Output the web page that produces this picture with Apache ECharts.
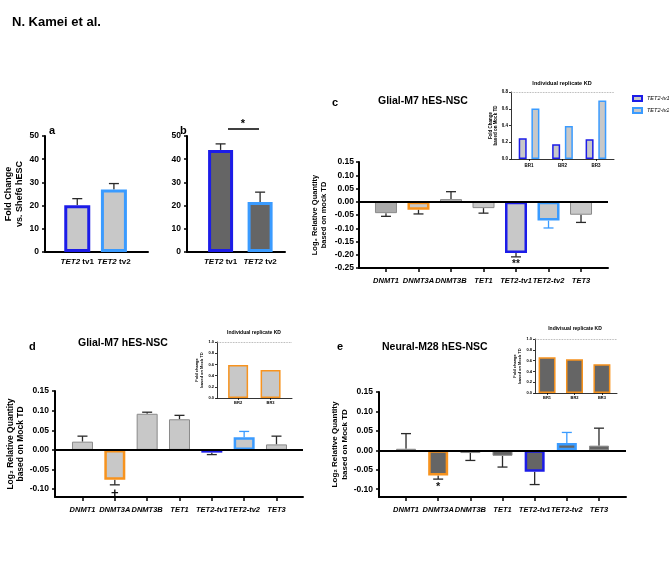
<!DOCTYPE html>
<html>
<head>
<meta charset="utf-8">
<script src="https://cdn.jsdelivr.net/npm/echarts@6/dist/echarts.min.js"></script>
<style>
html, body { margin: 0; padding: 0; background: #fff; }
#chart { width: 669px; height: 576px; }
</style>
</head>
<body>
<div id="chart"></div>
<script>
// panel a / b : fold change vs Shef6
var tvCats = ['TET2 tv1', 'TET2 tv2'];
var aVals = [20.2, 26.9];
var aErr = [23.0, 29.5];
var bVals = [44.0, 21.6];
var bErr = [46.6, 25.8];
var foldTicks = [0, 10, 20, 30, 40, 50];

// panels c / d / e : log2 relative quantity
var genes = ['DNMT1', 'DNMT3A', 'DNMT3B', 'TET1', 'TET2-tv1', 'TET2-tv2', 'TET3'];
var cVals = [-0.043, -0.030, 0.010, -0.024, -0.193, -0.071, -0.049];
var cErr = [-0.055, -0.046, 0.038, -0.043, -0.208, -0.099, -0.078];
var cSig = ['', '', '', '', '**', '', ''];
var dVals = [0.021, -0.076, 0.092, 0.078, -0.007, 0.032, 0.014];
var dErr = [0.035, -0.089, 0.096, 0.088, -0.012, 0.047, 0.035];
var dSig = ['', '+', '', '', '', '', ''];
var eVals = [0.004, -0.065, -0.007, -0.014, -0.055, 0.019, 0.012];
var eErr = [0.043, -0.074, -0.026, -0.043, -0.088, 0.046, 0.057];
var eSig = ['', '*', '', '', '', '', ''];
var cTicks = [-0.25, -0.2, -0.15, -0.1, -0.05, 0, 0.05, 0.1, 0.15];
var deTicks = [-0.1, -0.05, 0, 0.05, 0.1, 0.15];

// insets : individual replicate KD
var cReps = ['BR1', 'BR2', 'BR3'];
var cRepTv1 = [0.248, 0.177, 0.236];
var cRepTv2 = [0.603, 0.394, 0.700];
var cRepTicks = [0, 0.2, 0.4, 0.6, 0.8];
var dReps = ['BR2', 'BR3'];
var dRep = [0.59, 0.50];
var eReps = ['BR1', 'BR2', 'BR3'];
var eRep = [0.66, 0.626, 0.534];
var repTicks = [0, 0.2, 0.4, 0.6, 0.8, 1.0];

var FONT = 'Liberation Sans';
var BLUE = '#1c1ce8', LBLUE = '#3a9bff', ORANGE = '#f7931e';
var LGREY = '#c8c8c8', DGREY = '#656565', EDGE = '#8a8a8a', INK = '#2a2a2a';

var geneEdge = [EDGE, ORANGE, EDGE, EDGE, BLUE, LBLUE, EDGE];
var geneEdgeW = [1, 2.5, 1, 1, 2.5, 2.5, 1];
var geneErrCol = [INK, INK, INK, INK, INK, LBLUE, INK];

function seq(n) { var r = []; for (var i = 1; i <= n; i++) r.push(i); return r; }

function xAx(g, min, max, names, opt) {
    opt = opt || {};
    var pos = seq(names.length);
    return {
        gridIndex: g, type: 'value', min: min, max: max,
        axisLine: { show: true, onZero: false, lineStyle: { color: '#000', width: opt.lw || 2 } },
        axisTick: { show: opt.tick !== false, customValues: pos, length: opt.tl || 4, lineStyle: { color: '#000', width: opt.tw || 1.5 } },
        axisLabel: {
            customValues: pos, color: '#000', margin: opt.margin || 8,
            fontFamily: FONT, fontWeight: 'bold', fontStyle: opt.italic ? 'italic' : 'normal', fontSize: opt.fs || 7.5,
            formatter: function (v) {
                var s = names[Math.round(v) - 1] || '';
                if (opt.tv) { var p = s.split(' '); return '{i|' + p[0] + '} ' + p[1]; }
                return s;
            },
            rich: { i: { fontFamily: FONT, fontWeight: 'bold', fontStyle: 'italic', fontSize: opt.fs || 7.5, color: '#000' } }
        },
        splitLine: { show: false }
    };
}

function yAx(g, min, max, ticks, digits, name, gap, opt) {
    opt = opt || {};
    return {
        gridIndex: g, type: 'value', min: min, max: max,
        axisLine: { show: true, lineStyle: { color: '#000', width: opt.lw || 2 } },
        axisTick: { show: true, customValues: ticks, length: opt.tl || 3, lineStyle: { color: '#000', width: opt.tw || 1.5 } },
        axisLabel: {
            customValues: ticks, color: '#000', margin: opt.margin || 6,
            fontFamily: FONT, fontWeight: 'bold', fontSize: opt.fs || 8.5,
            formatter: function (v) { return v.toFixed(digits); }
        },
        splitLine: { show: false },
        name: name, nameLocation: 'middle', nameRotate: 90, nameGap: gap,
        nameTextStyle: { fontFamily: FONT, fontWeight: 'bold', fontSize: opt.nfs || 8.5, color: '#000', lineHeight: opt.nlh || 10, align: 'center' }
    };
}

function barSeries(g, vals, fill, edge, edgeW, width, zeroLine, name, top) {
    var s = {
        type: 'bar', name: name || ('bars' + g), xAxisIndex: g, yAxisIndex: g, barWidth: width, barGap: '-100%', z: 3,
        data: vals.map(function (v, i) {
            return {
                value: [i + 1, v],
                itemStyle: {
                    color: Array.isArray(fill) ? fill[i] : fill,
                    borderColor: Array.isArray(edge) ? edge[i] : edge,
                    borderWidth: Array.isArray(edgeW) ? edgeW[i] : edgeW
                }
            };
        })
    };
    if (zeroLine) {
        s.markLine = { silent: true, symbol: 'none', label: { show: false }, lineStyle: { color: '#000', width: 2, type: 'solid' }, data: [{ yAxis: 0 }] };
    }
    if (top != null) {
        s.markLine = { silent: true, symbol: 'none', label: { show: false }, lineStyle: { color: '#9a9a9a', width: 0.8, type: 'dotted' }, data: [{ yAxis: top }] };
    }
    return s;
}

function errSeries(g, vals, errs, cols, marks, markFont) {
    return {
        type: 'custom', xAxisIndex: g, yAxisIndex: g, z: 2, silent: true,
        data: vals.map(function (v, i) { return [i + 1, v, errs[i]]; }),
        encode: { x: 0, y: [1, 2] },
        renderItem: function (params, api) {
            var i = params.dataIndex;
            var p0 = api.coord([api.value(0), api.value(1)]);
            var p1 = api.coord([api.value(0), api.value(2)]);
            var col = Array.isArray(cols) ? cols[i] : cols;
            var ch = [
                { type: 'line', shape: { x1: p0[0], y1: p0[1], x2: p1[0], y2: p1[1] }, style: { stroke: col, lineWidth: 1.3 } },
                { type: 'line', shape: { x1: p1[0] - 5, y1: p1[1], x2: p1[0] + 5, y2: p1[1] }, style: { stroke: col, lineWidth: 1.3 } }
            ];
            if (marks && marks[i]) {
                ch.push({ type: 'text', x: p1[0], y: p1[1] + 2.5, style: { text: marks[i], font: markFont, fill: '#111', textAlign: 'center', textVerticalAlign: 'top' } });
            }
            return { type: 'group', children: ch };
        }
    };
}

function txt(t, x, y, size, align) {
    return { type: 'text', x: x, y: y, silent: true, style: { text: t, font: 'bold ' + size + 'px ' + FONT, fill: '#000', textAlign: align || 'left', textVerticalAlign: 'middle' } };
}

var grids = [
    { left: 45, top: 136, width: 103, height: 116 },   // 0 a
    { left: 187, top: 136, width: 98, height: 116 },   // 1 b
    { left: 359, top: 162, width: 249, height: 106 },  // 2 c
    { left: 511, top: 92, width: 103, height: 67 },    // 3 c inset
    { left: 55, top: 391, width: 248, height: 106 },   // 4 d
    { left: 217, top: 342, width: 75, height: 56 },    // 5 d inset
    { left: 379, top: 392, width: 247, height: 105 },  // 6 e
    { left: 535, top: 339, width: 82, height: 54 }     // 7 e inset
].map(function (g) { g.outerBoundsMode = 'none'; g.containLabel = false; return g; });

var chart = echarts.init(document.getElementById('chart'));
var option = {
    animation: false,
    backgroundColor: '#fff',
    grid: grids,
    xAxis: [
        xAx(0, 0.12, 2.93, tvCats, { tick: false, tv: true, fs: 8, margin: 6 }),
        xAx(1, 0.15, 2.63, tvCats, { tick: false, tv: true, fs: 8, margin: 6 }),
        xAx(2, 0.17, 7.83, genes, { italic: true, fs: 7.5, margin: 9 }),
        xAx(3, 0.46, 3.54, cReps, { lw: 0.8, tl: 2, tw: 0.8, fs: 4.5, margin: 4 }),
        xAx(4, 0.15, 7.82, genes, { italic: true, fs: 7.5, margin: 9 }),
        xAx(5, 0.35, 2.66, dReps, { lw: 0.8, tl: 2, tw: 0.8, fs: 4, margin: 3 }),
        xAx(6, 0.16, 7.84, genes, { italic: true, fs: 7.5, margin: 9 }),
        xAx(7, 0.56, 3.55, eReps, { lw: 0.8, tl: 2, tw: 0.8, fs: 4, margin: 3 })
    ],
    yAxis: [
        yAx(0, 0, 50, foldTicks, 0, 'Fold Change\nvs. Shef6 hESC', 20, { fs: 8.5, nfs: 9, nlh: 11 }),
        yAx(1, 0, 50, foldTicks, 0, '', 20, { fs: 8.5 }),
        yAx(2, -0.25, 0.15, cTicks, 2, 'Log\u2082 Relative Quantity\nbased on mock TD', 31, { fs: 8.5, nfs: 7.5, nlh: 9, margin: 5 }),
        yAx(3, 0, 0.8, cRepTicks, 1, 'Fold Change\nbased on Mock TD', 12, { lw: 0.8, tl: 2, tw: 0.8, fs: 4.5, margin: 3, nfs: 4.5, nlh: 5 }),
        yAx(4, -0.12, 0.15, deTicks, 2, 'Log\u2082 Relative Quantity\nbased on Mock TD', 23, { fs: 8.5, nfs: 8.5, nlh: 10 }),
        yAx(5, 0, 1.0, repTicks, 1, 'Fold change\nbased on Mock TD', 11, { lw: 0.8, tl: 2, tw: 0.8, fs: 4, margin: 3, nfs: 4, nlh: 5 }),
        yAx(6, -0.12, 0.15, deTicks, 2, 'Log\u2082 Relative Quantity\nbased on Mock TD', 26, { fs: 8.5, nfs: 8, nlh: 10 }),
        yAx(7, 0, 1.0, repTicks, 1, 'Fold change\nbased on Mock TD', 13, { lw: 0.8, tl: 2, tw: 0.8, fs: 4, margin: 3, nfs: 4, nlh: 5 })
    ],
    legend: {
        data: ['TET2-tv1', 'TET2-tv2'], orient: 'vertical', left: 627, top: 90,
        itemWidth: 9, itemHeight: 5, itemGap: 5, icon: 'rect',
        textStyle: { fontFamily: FONT, fontStyle: 'italic', fontSize: 5.5, color: '#000' }
    },
    series: [
        // a
        barSeries(0, aVals, LGREY, [BLUE, LBLUE], 3, 26),
        errSeries(0, aVals, aErr, INK),
        // b
        barSeries(1, bVals, DGREY, [BLUE, LBLUE], 3, 25),
        errSeries(1, bVals, bErr, INK),
        // c
        barSeries(2, cVals, ['#aaaaaa', LGREY, LGREY, LGREY, LGREY, LGREY, LGREY], geneEdge, geneEdgeW, 22, true),
        errSeries(2, cVals, cErr, geneErrCol, cSig, 'bold 10px ' + FONT),
        // c inset
        (function () {
            var s = barSeries(3, cRepTv1, LGREY, BLUE, 1.5, 8, false, 'TET2-tv1', 0.8);
            s.data.forEach(function (d) { d.value[0] -= 0.19; });
            s.itemStyle = { color: LGREY, borderColor: BLUE, borderWidth: 1.5 };
            return s;
        })(),
        (function () {
            var s = barSeries(3, cRepTv2, LGREY, LBLUE, 1.5, 8, false, 'TET2-tv2');
            s.data.forEach(function (d) { d.value[0] += 0.19; });
            s.itemStyle = { color: LGREY, borderColor: LBLUE, borderWidth: 1.5 };
            return s;
        })(),
        // d
        barSeries(4, dVals, LGREY, geneEdge, geneEdgeW, 21, true),
        errSeries(4, dVals, dErr, geneErrCol, dSig, 'bold 13px ' + FONT),
        barSeries(5, dRep, LGREY, ORANGE, 1.5, 20, false, 'dRep', 1.0),
        // e
        barSeries(6, eVals, DGREY, geneEdge, geneEdgeW, 20, true),
        errSeries(6, eVals, eErr, geneErrCol, eSig, 'bold 11px ' + FONT),
        barSeries(7, eRep, DGREY, ORANGE, 1.5, 17, false, 'eRep', 1.0)
    ],
    graphic: [
        txt('N. Kamei et al.', 12, 22, 13),
        txt('a', 49, 131, 11),
        txt('b', 180, 131, 11),
        txt('c', 332, 103, 11),
        txt('Glial-M7 hES-NSC', 378, 101, 10.5),
        txt('d', 29, 347, 11),
        txt('Glial-M7 hES-NSC', 78, 343, 10.5),
        txt('e', 337, 347, 11),
        txt('Neural-M28 hES-NSC', 382, 347, 10.5),
        txt('Individual replicate KD', 562, 83, 5.5, 'center'),
        txt('Individual replicate KD', 254, 333, 5, 'center'),
        txt('Indivisual replicate KD', 575, 329, 5, 'center'),
        { type: 'line', silent: true, shape: { x1: 228, y1: 129, x2: 259, y2: 129 }, style: { stroke: '#000', lineWidth: 1.5 } },
        txt('*', 243, 124, 11, 'center')
    ]
};
chart.setOption(option);
</script>
</body>
</html>
